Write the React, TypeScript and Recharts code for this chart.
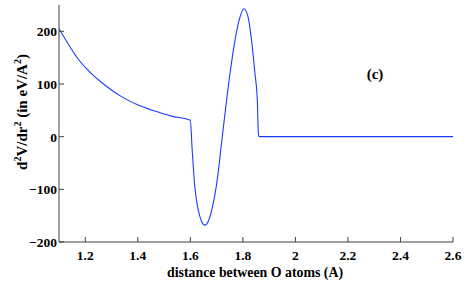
import React from "react";
import { LineChart, Line, XAxis, YAxis } from "recharts";

const distances = [
  1.1, 1.134, 1.172, 1.211, 1.274, 1.338, 1.401, 1.465, 1.528, 1.6,
  1.607, 1.617, 1.63, 1.643, 1.655, 1.668, 1.685, 1.704, 1.717,
  1.732, 1.751, 1.77, 1.789, 1.804, 1.82, 1.833, 1.846, 1.855, 1.859,
  1.862, 2.0, 2.2, 2.4, 2.6,
];
const secondDerivative = [
  205, 177, 148, 126, 98, 76, 60, 48.6, 39, 31,
  -25, -95, -139, -161, -168, -161, -132, -76, -20,
  44, 120, 183, 227, 243, 227, 183, 120, 69, 6,
  0, 0, 0, 0, 0,
];
const xTicks = [1.2, 1.4, 1.6, 1.8, 2.0, 2.2, 2.4, 2.6];
const yTicks = [-200, -100, 0, 100, 200];

const data = distances.map((x, i) => ({ x, v: secondDerivative[i] }));

const FRAME = "#404040";
const FONT = "'Liberation Serif', 'Times New Roman', serif";

const fmtX = (v: number) => String(Math.round(v * 10) / 10);
const fmtY = (v: number) => (v < 0 ? "\u2212" + Math.abs(v) : String(v));

const BottomTick = (p: any) => (
  <g>
    <line x1={p.x} x2={p.x} y1={p.y} y2={p.y - 5} stroke={FRAME} />
    <text x={p.x} y={p.y + 18} textAnchor="middle" fontFamily={FONT} fontWeight="bold" fontSize={13.5} fill="#000">
      {fmtX(p.payload.value)}
    </text>
  </g>
);
const TopTick = (p: any) => (
  <line x1={p.x} x2={p.x} y1={p.y} y2={p.y + 5} stroke={FRAME} />
);
const LeftTick = (p: any) => (
  <g>
    <line x1={p.x} x2={p.x + 5} y1={p.y} y2={p.y} stroke={FRAME} />
    <text x={p.x - 2} y={p.y + 5} textAnchor="end" fontFamily={FONT} fontWeight="bold" fontSize={13.5} fill="#000">
      {fmtY(p.payload.value)}
    </text>
  </g>
);
const RightTick = (p: any) => (
  <line x1={p.x} x2={p.x - 5} y1={p.y} y2={p.y} stroke={FRAME} />
);

export default function App() {
  return (
    <div style={{ position: "absolute", left: 0, top: 0, width: 469, height: 300, background: "#fff" }}>
      <LineChart width={469} height={300} data={data} margin={{ top: 5, right: 16, left: 0, bottom: 28 }}>
        <XAxis
          xAxisId="b"
          type="number"
          dataKey="x"
          domain={[1.1, 2.6]}
          allowDataOverflow
          ticks={xTicks}
          interval={0}
          height={30}
          tickSize={0}
          tickMargin={0}
          tickLine={false}
          tick={BottomTick}
          axisLine={{ stroke: FRAME }}
        />
        <XAxis
          xAxisId="t"
          orientation="top"
          type="number"
          dataKey="x"
          domain={[1.1, 2.6]}
          allowDataOverflow
          ticks={xTicks}
          interval={0}
          height={0}
          tickSize={0}
          tickMargin={0}
          tickLine={false}
          tick={TopTick}
          axisLine={{ stroke: FRAME }}
        />
        <YAxis
          yAxisId="l"
          type="number"
          domain={[-200, 250]}
          allowDataOverflow
          ticks={yTicks}
          interval={0}
          width={59}
          tickSize={0}
          tickMargin={0}
          tickLine={false}
          tick={LeftTick}
          axisLine={{ stroke: FRAME }}
        />
        <YAxis
          yAxisId="r"
          orientation="right"
          type="number"
          domain={[-200, 250]}
          allowDataOverflow
          ticks={yTicks}
          interval={0}
          width={0}
          tickSize={0}
          tickMargin={0}
          tickLine={false}
          tick={RightTick}
          axisLine={{ stroke: FRAME }}
        />
        <Line
          xAxisId="b"
          yAxisId="l"
          dataKey="v"
          type="monotone"
          stroke="#1a3cff"
          strokeWidth={1.1}
          dot={false}
          isAnimationActive={false}
        />
      </LineChart>
      <svg width={469} height={300} style={{ position: "absolute", left: 0, top: 0, pointerEvents: "none" }}>
        <text x={255} y={277} textAnchor="middle" fontFamily={FONT} fontWeight="bold" fontSize={15.5} textLength={176} lengthAdjust="spacingAndGlyphs" fill="#000">
          distance between O atoms (A)
        </text>
        <text transform="translate(26.5,112) rotate(-90)" textAnchor="middle" fontFamily={FONT} fontWeight="bold" fontSize={15} fill="#000">
          d<tspan fontSize={10} dy={-6}>2</tspan>
          <tspan dy={6}>V/dr</tspan>
          <tspan fontSize={10} dy={-6}>2</tspan>
          <tspan dy={6}> (in eV/A</tspan>
          <tspan fontSize={10} dy={-6}>2</tspan>
          <tspan dy={6}>)</tspan>
        </text>
        <text x={375} y={79} textAnchor="middle" fontFamily={FONT} fontWeight="bold" fontSize={15} fill="#000">
          (c)
        </text>
      </svg>
    </div>
  );
}
